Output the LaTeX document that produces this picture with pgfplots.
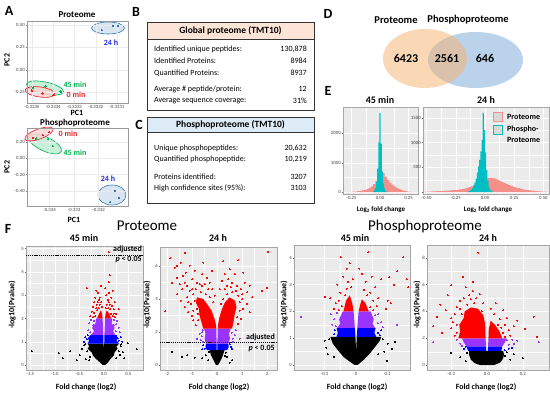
\documentclass[border=0pt]{standalone}
\usepackage{fontspec}
\setmainfont{Carlito}
\usepackage{pgfplots}
\pgfplotsset{compat=1.18}
\definecolor{ggbg}{RGB}{235,235,235}
\definecolor{salm}{RGB}{244,143,138}
\definecolor{teal2}{RGB}{0,191,196}
\definecolor{vred}{RGB}{255,0,0}
\definecolor{vpur}{RGB}{153,51,255}
\definecolor{vblue}{RGB}{0,0,255}
\definecolor{pcred}{RGB}{237,28,36}
\definecolor{pcgreen}{RGB}{0,176,80}
\definecolor{pcblue}{RGB}{46,117,182}
\definecolor{lab24}{RGB}{30,40,230}
\definecolor{peach}{RGB}{252,228,214}
\definecolor{lblue}{RGB}{221,235,247}
\definecolor{vorange}{RGB}{246,178,107}
\definecolor{vbluev}{RGB}{120,165,215}
\newcommand{\fs}[1]{\fontsize{#1}{#1}\selectfont}
\pgfplotsset{
  base/.style={scale only axis, tick align=outside, tick pos=left,
    major tick length=1.3pt, minor tick length=0pt,
    ticklabel style={font=\fs{4.8}, text=black!75, inner sep=0.8pt},
    /pgf/number format/assume math mode=true},
  gg/.style={base, axis background/.style={fill=ggbg},
    axis line style={draw=black!35, line width=0.4pt},
    grid=both, major grid style={white, line width=0.5pt},
    minor grid style={white, line width=0.25pt},
    minor tick num=1, tick style={black!60, line width=0.35pt}},
  pca/.style={base, axis line style={draw=black!40, line width=0.4pt},
    grid=major, major grid style={black!8, line width=0.3pt},
    tick style={black!50, line width=0.35pt}},
  mk/.style={only marks, mark=*, mark size=0.5pt, color=#1, mark options={line width=0pt}},
  pm/.style={only marks, mark=*, mark size=0.8pt, color=#1, mark options={line width=0pt}},
}
\begin{document}
\begin{tikzpicture}
\useasboundingbox (0pt,-394pt) rectangle (550pt,0pt);
% ---------------- panel letters
\node[font=\bfseries\fs{14}] at (9pt,-11pt) {A};
\node[font=\bfseries\fs{14}] at (136pt,-12pt) {B};
\node[font=\bfseries\fs{14}] at (139pt,-125pt) {C};
\node[font=\bfseries\fs{14}] at (328pt,-14pt) {D};
\node[font=\bfseries\fs{14}] at (328pt,-91pt) {E};
\node[font=\bfseries\fs{14}] at (8pt,-229pt) {F};
% ---------------- A: PCA proteome
\draw[pcblue, line width=0.6pt, fill=pcblue!18] (108pt,-28pt) ellipse [x radius=16.5pt, y radius=6pt];
\draw[pcgreen, line width=0.6pt, fill=pcgreen!25, fill opacity=0.85, rotate around={-12:(45pt,-88pt)}] (45pt,-88pt) ellipse [x radius=19pt, y radius=6pt];
\draw[pcred, line width=0.6pt, fill=pcred!20, fill opacity=0.8, rotate around={-8:(40pt,-92pt)}] (40pt,-92pt) ellipse [x radius=15pt, y radius=5pt];
\begin{axis}[pca, at={(27pt,-103pt)}, anchor=south west, width=101pt, height=82pt,
  xmin=-0.235, xmax=4.52, ymin=-0.373, ymax=0.545,
  xtick={0,1,2,3,4}, xticklabels={-0.3335,-0.3334,-0.3333,-0.3332,-0.3331},
  ytick={-0.25,0,0.25,0.5}, yticklabels={-0.25,0.00,0.25,0.50}]
\addplot[pm=pcblue] coordinates {(3.81,0.49)(4.05,0.49)(3.29,0.444)};
\addplot[pm=pcgreen] coordinates {(0.05,-0.205)(0.65,-0.185)(1.35,-0.245)};
\addplot[pm=pcred] coordinates {(0.0,-0.235)(0.5,-0.265)(1.0,-0.285)};
\end{axis}
\node[font=\bfseries\fs{9}] at (77pt,-15pt) {Proteome};
\node[font=\bfseries\fs{8}, rotate=90] at (7pt,-60pt) {PC2};
\node[font=\bfseries\fs{8}] at (77pt,-113pt) {PC1};
\node[font=\bfseries\fs{8}, text=lab24] at (111pt,-43pt) {24 h};
\node[font=\bfseries\fs{8}, text=pcgreen] at (75pt,-85pt) {45 min};
\node[font=\bfseries\fs{8}, text=pcred] at (76pt,-95pt) {0 min};
% ---------------- A: PCA phosphoproteome
\draw[pcblue, line width=0.6pt, fill=pcblue!18] (112pt,-195pt) ellipse [x radius=14pt, y radius=10pt];
\draw[pcgreen, line width=0.6pt, fill=pcgreen!25, fill opacity=0.85, rotate around={-25:(45pt,-144pt)}] (45pt,-144pt) ellipse [x radius=18pt, y radius=7pt];
\draw[pcred, line width=0.6pt, fill=pcred!20, fill opacity=0.8, rotate around={20:(39pt,-134pt)}] (39pt,-134pt) ellipse [x radius=15pt, y radius=5pt];
\begin{axis}[pca, at={(27pt,-206pt)}, anchor=south west, width=101pt, height=78pt,
  xmin=-1.92, xmax=2.2, ymin=-0.584, ymax=0.371,
  xtick={-1,0,1}, xticklabels={-0.334,-0.333,-0.332},
  ytick={-0.4,-0.2,0,0.2}, yticklabels={-0.40,-0.20,0.00,0.20}]
\addplot[pm=pcblue] coordinates {(1.67,-0.40)(1.84,-0.486)(1.47,-0.535)};
\addplot[pm=pcgreen] coordinates {(-1.55,0.245)(-1.06,0.236)(-0.86,0.15)};
\addplot[pm=pcred] coordinates {(-1.67,0.25)(-1.27,0.285)(-1.02,0.32)};
\end{axis}
\node[font=\bfseries\fs{9}] at (75pt,-123pt) {Phosphoproteome};
\node[font=\bfseries\fs{8}, rotate=90] at (7pt,-167pt) {PC2};
\node[font=\bfseries\fs{8}] at (74pt,-220pt) {PC1};
\node[font=\bfseries\fs{8}, text=pcred] at (68pt,-134pt) {0 min};
\node[font=\bfseries\fs{8}, text=pcgreen] at (75pt,-153pt) {45 min};
\node[font=\bfseries\fs{8}, text=lab24] at (108pt,-179pt) {24 h};
% ---------------- B table
\fill[peach] (147pt,-22pt) rectangle (314pt,-39pt);
\draw[black!80, line width=0.6pt] (147pt,-22pt) rectangle (314pt,-110pt);
\draw[black!80, line width=0.6pt] (147pt,-39pt) -- (314pt,-39pt);
\node[font=\bfseries\fs{9.5}] at (230.5pt,-30.5pt) {Global proteome (TMT10)};
\begin{scope}[every node/.style={font=\fs{8}, inner sep=0pt}]
\node[anchor=west] at (154pt,-49pt) {Identified unique peptides:};
\node[anchor=east] at (307pt,-49pt) {130,878};
\node[anchor=west] at (154pt,-61pt) {Identified Proteins:};
\node[anchor=east] at (307pt,-61pt) {8984};
\node[anchor=west] at (154pt,-73pt) {Quantified Proteins:};
\node[anchor=east] at (307pt,-73pt) {8937};
\node[anchor=west] at (154pt,-89pt) {Average \# peptide/protein:};
\node[anchor=east] at (307pt,-89pt) {12};
\node[anchor=west] at (154pt,-101pt) {Average sequence coverage:};
\node[anchor=east] at (307pt,-101pt) {31\%};
\end{scope}
% ---------------- C table
\fill[lblue] (147pt,-117pt) rectangle (314pt,-132pt);
\draw[black!80, line width=0.6pt] (147pt,-117pt) rectangle (314pt,-203pt);
\draw[black!80, line width=0.6pt] (147pt,-132pt) -- (314pt,-132pt);
\node[font=\bfseries\fs{9.5}] at (230.5pt,-124.5pt) {Phosphoproteome (TMT10)};
\begin{scope}[every node/.style={font=\fs{8}, inner sep=0pt}]
\node[anchor=west] at (154pt,-148pt) {Unique phosphopeptides:};
\node[anchor=east] at (307pt,-148pt) {20,632};
\node[anchor=west] at (154pt,-159pt) {Quantified phosphopeptide:};
\node[anchor=east] at (307pt,-159pt) {10,219};
\node[anchor=west] at (154pt,-177pt) {Proteins identified:};
\node[anchor=east] at (307pt,-177pt) {3207};
\node[anchor=west] at (154pt,-188pt) {High confidence sites (95\%):};
\node[anchor=east] at (307pt,-188pt) {3103};
\end{scope}
% ---------------- D Venn
\fill[vbluev, fill opacity=0.5] (475.5pt,-60pt) ellipse [x radius=47.5pt, y radius=28pt];
\fill[vorange, fill opacity=0.5] (425pt,-58.5pt) ellipse [x radius=42pt, y radius=29.5pt];
\node[font=\bfseries\fs{10.5}] at (396pt,-20pt) {Proteome};
\node[font=\bfseries\fs{10.5}] at (468pt,-20pt) {Phosphoproteome};
\node[font=\bfseries\fs{12}] at (406pt,-58pt) {6423};
\node[font=\bfseries\fs{12}] at (447pt,-58pt) {2561};
\node[font=\bfseries\fs{12}] at (485pt,-58pt) {646};
% ---------------- E histograms
\begin{axis}[gg, at={(343pt,-194pt)}, anchor=south west, width=75pt, height=87pt,
  xmin=-0.325, xmax=0.333, ymin=-60, ymax=2900,
  xtick={-0.25,0,0.25}, xticklabels={-0.25,0.00,0.25},
  ytick={0,1000,2000}, yticklabels={0,1000,2000}]
\addplot[const plot, fill=salm, draw=none] coordinates {
(-0.30,5)(-0.28,8)(-0.26,12)(-0.24,18)(-0.22,25)(-0.20,35)(-0.18,45)(-0.16,60)(-0.14,80)(-0.12,110)(-0.10,150)(-0.08,200)(-0.06,280)(-0.04,380)(-0.02,520)(0.00,690)(0.02,650)(0.04,520)(0.06,420)(0.08,330)(0.10,260)(0.12,200)(0.14,150)(0.16,110)(0.18,80)(0.20,55)(0.22,35)(0.24,22)(0.26,14)(0.28,8)(0.30,0)} \closedcycle;
\addplot[const plot, fill=teal2, draw=none] coordinates {
(-0.065,20)(-0.055,60)(-0.045,150)(-0.035,350)(-0.025,800)(-0.015,1700)(-0.005,2700)(0.005,1650)(0.015,700)(0.025,300)(0.035,120)(0.045,50)(0.055,15)(0.065,0)} \closedcycle;
\end{axis}
\begin{axis}[gg, at={(423pt,-194pt)}, anchor=south west, width=126pt, height=87pt,
  xmin=-0.531, xmax=0.548, ymin=-40, ymax=1720,
  xtick={-0.5,-0.25,0,0.25,0.5}, xticklabels={-0.50,-0.25,0.00,0.25,0.50},
  ytick={0,500,1000,1500}, yticklabels={,500,1000,1500}]
\addplot[const plot, fill=salm, draw=none] coordinates {
(-0.52,5)(-0.50,8)(-0.48,10)(-0.46,12)(-0.44,14)(-0.42,16)(-0.40,18)(-0.38,20)(-0.36,22)(-0.34,25)(-0.32,28)(-0.30,32)(-0.28,36)(-0.26,40)(-0.24,45)(-0.22,52)(-0.20,60)(-0.18,70)(-0.16,82)(-0.14,100)(-0.12,120)(-0.10,150)(-0.08,180)(-0.06,210)(-0.04,240)(-0.02,260)(0.00,270)(0.02,280)(0.04,285)(0.06,280)(0.08,270)(0.10,250)(0.12,225)(0.14,200)(0.16,180)(0.18,160)(0.20,140)(0.22,120)(0.24,105)(0.26,90)(0.28,78)(0.30,66)(0.32,55)(0.34,46)(0.36,38)(0.38,32)(0.40,26)(0.42,21)(0.44,17)(0.46,13)(0.48,10)(0.50,7)(0.52,5)(0.54,0)} \closedcycle;
\addplot[const plot, fill=teal2, draw=none] coordinates {
(-0.15,10)(-0.14,20)(-0.13,30)(-0.12,50)(-0.11,80)(-0.10,130)(-0.09,190)(-0.08,270)(-0.07,400)(-0.06,520)(-0.05,650)(-0.04,820)(-0.03,1050)(-0.02,1600)(-0.01,1250)(0.00,800)(0.01,450)(0.02,220)(0.03,100)(0.04,50)(0.05,20)(0.06,8)(0.07,0)} \closedcycle;
\end{axis}
\node[font=\bfseries\fs{10}] at (380pt,-100pt) {45 min};
\node[font=\bfseries\fs{10}] at (486pt,-100pt) {24 h};
\node[font=\bfseries\fs{7}] at (381pt,-210pt) {Log$_\mathbf{2}$ fold change};
\node[font=\bfseries\fs{7}] at (488pt,-210pt) {Log$_\mathbf{2}$ fold change};
\draw[salm, line width=1pt, fill=black!15] (493.5pt,-112pt) rectangle (502.5pt,-121pt);
\draw[teal2, line width=1pt, fill=black!15] (493.5pt,-125pt) rectangle (502.5pt,-134pt);
\node[font=\bfseries\fs{8}, anchor=west, inner sep=0pt] at (507pt,-116.5pt) {Proteome};
\node[font=\bfseries\fs{8}, anchor=west, inner sep=0pt] at (507pt,-129pt) {Phospho-};
\node[font=\bfseries\fs{8}, anchor=west, inner sep=0pt] at (507pt,-140pt) {Proteome};
% ---------------- F volcano plots
\node[font=\fs{15}] at (147pt,-226pt) {Proteome};
\node[font=\fs{15}] at (425pt,-226pt) {Phosphoproteome};
% P45
\begin{axis}[gg, at={(26pt,-370pt)}, anchor=south west, width=117pt, height=124pt,
  xmin=-1.59, xmax=0.80, ymin=-0.21, ymax=5.11,
  xtick={-1.5,-1,-0.5,0,0.5}, xticklabels={-1.5,-1.0,-0.5,0.0,0.5},
  ytick={0,1,2,3,4,5}, yticklabels={0,1,2,3,4,5}]
\addplot[fill=black, draw=none] coordinates {(-0.02,0)(0.02,0)(0.08,0.1)(0.13,0.25)(0.2,0.4)(0.22,0.55)(0.28,0.7)(0.26,0.8)(0.31,0.92)(0.008,0.92)(0,0.7)(-0.008,0.92)(-0.33,0.92)(-0.3,0.8)(-0.33,0.7)(-0.25,0.55)(-0.22,0.4)(-0.15,0.25)(-0.07,0.1)};
\addplot[fill=vblue, draw=none] coordinates {(-0.008,0.92)(-0.33,0.92)(-0.3,1.05)(-0.33,1.15)(-0.26,1.3)(-0.012,1.3)};
\addplot[fill=vblue, draw=none] coordinates {(0.008,0.92)(0.31,0.92)(0.26,1.05)(0.28,1.15)(0.21,1.3)(0.012,1.3)};
\addplot[fill=vpur, draw=none] coordinates {(-0.012,1.3)(-0.26,1.3)(-0.2,1.45)(-0.24,1.6)(-0.17,1.8)(-0.16,2.0)(-0.025,2.0)};
\addplot[fill=vpur, draw=none] coordinates {(0.012,1.3)(0.23,1.3)(0.19,1.45)(0.22,1.6)(0.16,1.8)(0.17,2.0)(0.025,2.0)};
\addplot[fill=vred, draw=none] coordinates {(-0.025,2.0)(-0.14,2.0)(-0.1,2.2)(-0.06,2.35)(-0.035,2.2)};
\addplot[fill=vred, draw=none] coordinates {(0.025,2.0)(0.15,2.0)(0.11,2.2)(0.06,2.35)(0.035,2.2)};
\addplot[mk=black] coordinates {(-1.47,0.6)(-0.92,0.5)(-0.84,0.3)(-0.69,0.6)(-0.49,0.43)(-0.37,0.26)(0.49,0.94)(0.67,0.69)(0.39,0.56)(-0.45,0.7)(0.42,0.3)(-0.55,0.2)(0.35,0.8)(-0.4,0.85)(0.33,0.45)(-0.3,0.2)(-0.34,0.6)(0.3,0.6)(-0.28,0.35)(0.25,0.3)(0.36,0.9)(-0.38,0.9)};
\addplot[mk=vblue] coordinates {(0.35,1.2)(-0.4,1.0)(0.38,1.0)(0.28,1.15)(-0.38,1.2)(-0.33,1.28)(0.3,1.05)(-0.35,1.1)(0.25,1.25)};
\addplot[mk=vpur] coordinates {(-0.32,1.5)(0.3,1.6)(-0.3,1.8)(0.27,1.9)(0.33,1.4)(-0.26,1.95)(0.25,1.75)(-0.28,1.4)(0.24,1.45)(-0.22,1.7)(0.2,1.7)(-0.2,1.9)(0.21,1.95)};
\addplot[mk=vred] coordinates {(-0.35,3.3)(-0.15,3.2)(-0.12,3.1)(-0.18,2.9)(-0.1,2.8)(-0.2,2.7)(-0.08,2.9)(-0.25,2.3)(-0.22,2.5)(-0.14,2.6)(-0.05,2.7)(-0.1,2.45)(0.05,3.0)(0.08,2.8)(0.12,2.6)(0.15,2.9)(0.1,3.1)(0.18,3.2)(0.22,2.7)(0.2,2.4)(0.06,2.6)(0.14,2.2)(0.12,3.85)(0.1,3.55)(0.1,4.85)(0.25,2.2)(-0.28,2.1)(0.3,2.4)(-0.06,3.4)(0.03,3.3)(-0.16,2.45)(0.17,2.55)(-0.18,2.1)(-0.2,2.25)(0.18,2.1)(0.2,2.2)(-0.13,2.35)(0.13,2.4)(-0.08,2.6)(0.09,2.45)(-0.04,2.5)(0.04,2.45)(-0.22,2.05)(0.22,2.05)(-0.12,2.7)(0.1,2.7)};
\addplot[black, line width=0.6pt, dash pattern=on 1.2pt off 0.9pt] coordinates {(-1.59,4.72)(0.80,4.72)};
\end{axis}
% P24
\begin{axis}[gg, at={(160pt,-370pt)}, anchor=south west, width=117pt, height=123pt,
  xmin=-2.28, xmax=2.4, ymin=-0.3, ymax=7.15,
  xtick={-2,-1,0,1,2}, xticklabels={-2,-1,0,1,2},
  ytick={0,2,4,6}, yticklabels={0,2,4,6}]
\addplot[fill=black, draw=none] coordinates {(-0.04,0)(0.04,0)(0.12,0.2)(0.2,0.45)(0.26,0.7)(0.3,0.9)(-0.3,0.9)(-0.24,0.6)(-0.16,0.35)(-0.09,0.15)};
\addplot[fill=vblue, draw=none] coordinates {(-0.01,0.9)(-0.4,0.9)(-0.46,1.1)(-0.44,1.3)(-0.015,1.3)};
\addplot[fill=vblue, draw=none] coordinates {(0.01,0.9)(0.4,0.9)(0.47,1.1)(0.45,1.3)(0.015,1.3)};
\addplot[fill=vpur, draw=none] coordinates {(-0.015,1.3)(-0.44,1.3)(-0.5,1.6)(-0.46,1.9)(-0.52,2.2)(-0.03,2.2)};
\addplot[fill=vpur, draw=none] coordinates {(0.015,1.3)(0.45,1.3)(0.52,1.6)(0.48,1.9)(0.55,2.2)(0.03,2.2)};
\addplot[fill=vred, draw=none] coordinates {(-0.03,2.2)(-0.55,2.2)(-0.62,2.6)(-0.7,3.0)(-0.72,3.4)(-0.85,3.8)(-0.8,4.1)(-0.55,4.0)(-0.4,3.7)(-0.22,3.3)(-0.1,2.8)(-0.05,2.5)};
\addplot[fill=vred, draw=none] coordinates {(0.03,2.2)(0.6,2.2)(0.66,2.6)(0.7,3.0)(0.78,3.5)(0.72,3.9)(0.5,4.1)(0.32,3.8)(0.2,3.4)(0.1,2.9)(0.05,2.5)};
\addplot[mk=black] coordinates {(-1.2,0.6)(-0.9,0.45)(-0.6,0.4)(-0.45,0.6)(0.4,0.5)(0.6,0.3)(-1.8,0.8)(-0.35,0.3)(0.35,0.75)(-1.4,0.5)(0.5,0.15)(-0.32,0.8)(0.32,0.55)};
\addplot[mk=vblue] coordinates {(0.6,1.0)(-0.55,1.2)(0.55,1.1)(-0.6,0.95)(-0.5,1.0)(0.5,1.25)};
\addplot[mk=vpur] coordinates {(-0.65,1.5)(-0.7,1.9)(0.7,1.8)(0.65,1.4)(0.9,1.6)(-0.8,1.6)(0.75,2.1)(-0.6,2.0)(0.62,1.6)(-0.62,1.75)(-0.55,1.4)(0.58,1.95)(-0.58,2.1)};
\addplot[mk=vred] coordinates {(-1.2,4.8)(-1.3,5.0)(-1.1,4.5)(-1.4,4.6)(-1.0,5.2)(-0.8,5.0)(-1.5,4.9)(-1.6,5.3)(-1.25,5.6)(-1.7,5.88)(-1.88,6.48)(-1.28,6.8)(-2.08,3.27)(-1.2,4.1)(-1.05,3.7)(-1.3,3.5)(-1.15,3.2)(-0.95,2.7)(-0.85,2.4)(-1.0,3.0)(-0.7,4.9)(-0.5,4.9)(-0.4,5.3)(-0.3,5.0)(-0.6,5.5)(-0.9,5.7)(-1.1,6.0)(-0.2,4.6)(-1.8,5.0)(-1.6,4.3)(-1.45,3.9)(-0.75,3.1)(-0.2,5.7)(-0.55,6.2)(-1.35,5.4)(-0.95,4.3)(-0.7,4.0)(-1.45,6.2)(-1.6,6.0)(-1.0,4.6)(-0.9,3.9)(-0.8,3.4)(-0.75,2.7)(-0.65,4.4)(-0.45,4.3)(-0.3,4.1)(-0.15,3.8)(-0.35,4.6)(-0.85,4.6)(-1.15,3.8)(-0.6,4.8)(-0.1,4.2)(-0.95,3.3)
(0.24,6.3)(0.84,6.36)(2.04,6.85)(2.0,4.67)(1.4,4.1)(1.2,4.4)(1.0,4.0)(0.95,4.6)(1.1,5.0)(0.9,3.3)(0.95,2.8)(0.85,2.5)(1.3,3.2)(0.6,5.0)(0.4,4.8)(0.2,5.1)(0.7,5.5)(0.5,5.8)(1.05,5.6)(1.3,4.8)(0.3,5.5)(1.2,3.7)(0.8,4.8)(1.8,4.5)(0.1,4.6)(0.65,3.8)(1.05,3.4)(0.45,5.2)(0.85,4.2)(0.6,4.4)(0.4,4.3)(0.25,4.0)(0.15,3.7)(0.9,3.8)(0.8,2.9)(0.75,4.5)(0.55,4.7)(1.0,4.3)(0.3,4.6)};
\addplot[black, line width=0.6pt, dash pattern=on 1.2pt off 0.9pt] coordinates {(-2.28,1.39)(2.4,1.39)};
\end{axis}
% F45
\begin{axis}[gg, at={(294pt,-370pt)}, anchor=south west, width=116pt, height=125pt,
  xmin=-0.197, xmax=0.171, ymin=-0.19, ymax=4.48,
  xtick={-0.1,0,0.1}, xticklabels={-0.1,0,0.1},
  ytick={0,1,2,3,4}, yticklabels={0,1,2,3,4}]
\addplot[fill=black, draw=none] coordinates {(-0.005,0)(0.005,0)(0.025,0.2)(0.045,0.45)(0.062,0.7)(0.075,0.9)(0.08,1.05)(0.002,1.05)(0,0.5)(-0.002,1.05)(-0.082,1.05)(-0.074,0.8)(-0.058,0.55)(-0.04,0.3)(-0.02,0.12)};
\addplot[fill=vblue, draw=none] coordinates {(-0.002,1.05)(-0.062,1.05)(-0.058,1.2)(-0.062,1.38)(-0.004,1.38)};
\addplot[fill=vblue, draw=none] coordinates {(0.002,1.05)(0.064,1.05)(0.058,1.2)(0.062,1.38)(0.004,1.38)};
\addplot[fill=vpur, draw=none] coordinates {(-0.004,1.38)(-0.06,1.38)(-0.05,1.55)(-0.054,1.7)(-0.042,2.0)(-0.008,2.0)};
\addplot[fill=vpur, draw=none] coordinates {(0.004,1.38)(0.06,1.38)(0.052,1.55)(0.056,1.7)(0.046,2.0)(0.008,2.0)};
\addplot[fill=vred, draw=none] coordinates {(-0.008,2.0)(-0.04,2.0)(-0.032,2.4)(-0.02,2.6)(-0.012,2.3)};
\addplot[fill=vred, draw=none] coordinates {(0.008,2.0)(0.04,2.0)(0.03,2.3)(0.018,2.45)(0.012,2.2)};
\addplot[mk=black] coordinates {(0.098,0.15)(0.124,0.86)(0.1,0.8)(-0.1,0.9)(0.09,0.5)(-0.09,0.4)(0.115,0.6)(-0.095,0.65)(-0.085,0.95)(0.085,0.95)(0.07,0.4)(-0.07,0.3)};
\addplot[mk=vblue] coordinates {(0.075,1.1)(-0.07,1.15)(0.08,1.3)(-0.068,1.3)(0.07,1.2)};
\addplot[mk=vpur] coordinates {(-0.175,1.8)(-0.075,1.5)(0.08,1.6)(-0.08,1.9)(0.085,1.4)(0.13,1.5)(0.07,1.9)(-0.07,1.7)(-0.065,1.45)(0.068,1.55)(-0.06,1.95)(0.06,1.85)};
\addplot[mk=vred] coordinates {(-0.048,4.03)(0.038,4.2)(0.15,4.03)(0.16,3.2)(0.165,2.9)(0.13,3.5)(0.105,3.28)(-0.098,2.54)(-0.082,2.5)(-0.06,3.0)(-0.04,3.3)(-0.03,3.6)(-0.025,3.1)(-0.015,2.9)(-0.05,2.7)(-0.065,2.3)(0.02,3.4)(0.03,3.1)(0.045,2.7)(0.06,2.9)(0.07,2.5)(0.08,3.2)(0.05,3.3)(0.095,2.1)(-0.07,2.1)(0.025,2.8)(-0.035,2.6)(0.1,2.4)(0.01,3.6)(0.11,2.3)(-0.01,3.2)(0.065,2.2)(-0.055,2.4)(0.055,2.4)(-0.02,3.8)(0.12,3.0)(-0.045,2.2)(0.045,2.15)(-0.03,2.85)(0.035,2.6)(-0.055,2.05)(0.055,2.05)};
\end{axis}
% F24
\begin{axis}[gg, at={(427pt,-370pt)}, anchor=south west, width=122pt, height=125pt,
  xmin=-0.335, xmax=0.346, ymin=-0.37, ymax=8.96,
  xtick={-0.2,0,0.2}, xticklabels={-0.2,0.0,0.2},
  ytick={0,2,4,6,8}, yticklabels={0,2,4,6,8}]
\addplot[fill=black, draw=none] coordinates {(-0.04,0)(0.04,0)(0.075,0.2)(0.09,0.5)(0.095,0.8)(0.09,1.05)(-0.1,1.05)(-0.1,0.75)(-0.09,0.4)(-0.07,0.15)};
\addplot[fill=vblue, draw=none] coordinates {(-0.004,1.05)(-0.105,1.05)(-0.115,1.4)(-0.006,1.4)};
\addplot[fill=vblue, draw=none] coordinates {(0.004,1.05)(0.08,1.05)(0.085,1.4)(0.006,1.4)};
\addplot[fill=vpur, draw=none] coordinates {(-0.006,1.4)(-0.115,1.4)(-0.13,1.7)(-0.14,2.0)(-0.008,2.0)};
\addplot[fill=vpur, draw=none] coordinates {(0.006,1.4)(0.085,1.4)(0.1,1.7)(0.11,2.0)(0.008,2.0)};
\addplot[fill=vred, draw=none] coordinates {(-0.008,2.0)(-0.16,2.0)(-0.15,2.5)(-0.155,3.0)(-0.13,3.5)(-0.125,4.0)(-0.09,4.3)(-0.05,4.2)(-0.02,3.7)(-0.01,3.0)};
\addplot[fill=vred, draw=none] coordinates {(0.008,2.0)(0.085,2.0)(0.07,2.5)(0.045,3.0)(0.02,3.3)(0.01,2.7)};
\addplot[mk=black] coordinates {(-0.15,0.6)(0.13,0.4)(0.15,0.8)(-0.2,0.9)(0.2,0.5)(-0.12,0.3)(0.11,0.95)(-0.11,0.9)(0.1,0.7)};
\addplot[mk=vblue] coordinates {(0.12,1.2)(0.1,1.1)(-0.13,1.2)(0.14,1.3)(-0.12,1.35)};
\addplot[mk=vpur] coordinates {(-0.3,1.7)(0.29,1.7)(0.15,1.6)(0.14,1.9)(-0.15,1.6)(0.12,1.5)(-0.17,1.9)(0.17,1.8)(-0.14,1.45)(0.11,1.85)};
\addplot[mk=vred] coordinates {(-0.05,8.4)(-0.134,6.6)(-0.2,5.97)(-0.23,4.1)(-0.28,3.6)(-0.2,2.75)(0.28,2.1)(0.21,2.7)(0.26,3.6)(0.11,3.5)(-0.08,5.5)(-0.1,5.2)(-0.06,5.0)(-0.15,4.8)(-0.17,4.3)(-0.18,3.8)(-0.19,3.2)(-0.17,2.4)(-0.04,5.3)(-0.02,4.6)(0.02,4.2)(0.04,3.8)(0.07,3.4)(0.1,3.0)(0.12,2.6)(0.13,2.2)(0.09,4.1)(-0.12,5.8)(-0.22,5.2)(-0.26,4.5)(-0.08,6.2)(0.05,4.6)(0.15,2.9)(0.17,3.3)(-0.25,2.4)(-0.3,2.9)(-0.13,5.0)(-0.09,4.9)(-0.2,3.5)(0.08,2.8)(-0.11,4.5)(-0.07,4.6)(-0.15,4.2)(-0.17,3.0)(-0.18,2.2)(-0.03,4.0)(0.06,3.0)(0.09,2.4)(0.1,2.1)(-0.14,3.8)};
\end{axis}
% F labels
\node[font=\bfseries\fs{10}] at (84pt,-238pt) {45 min};
\node[font=\bfseries\fs{10}] at (218pt,-238pt) {24 h};
\node[font=\bfseries\fs{10}] at (355pt,-238pt) {45 min};
\node[font=\bfseries\fs{10}] at (488pt,-238pt) {24 h};
\node[font=\bfseries\fs{8}] at (86pt,-387pt) {Fold change (log2)};
\node[font=\bfseries\fs{8}] at (219pt,-387pt) {Fold change (log2)};
\node[font=\bfseries\fs{8}] at (357pt,-387pt) {Fold change (log2)};
\node[font=\bfseries\fs{8}] at (486pt,-387pt) {Fold change (log2)};
\node[font=\bfseries\fs{8}, rotate=90] at (12pt,-305pt) {-log10(Pvalue)};
\node[font=\bfseries\fs{8}, rotate=90] at (147pt,-305pt) {-log10(Pvalue)};
\node[font=\bfseries\fs{8}, rotate=90] at (284pt,-305pt) {-log10(Pvalue)};
\node[font=\bfseries\fs{8}, rotate=90] at (417pt,-305pt) {-log10(Pvalue)};
\node[font=\bfseries\fs{8}, anchor=east, inner sep=0pt] at (142pt,-249pt) {adjusted};
\node[font=\bfseries\fs{8}, anchor=east, inner sep=0pt] at (142pt,-260pt) {\textit{p} < 0.05};
\node[font=\bfseries\fs{8}, anchor=east, inner sep=0pt] at (275pt,-337pt) {adjusted};
\node[font=\bfseries\fs{8}, anchor=east, inner sep=0pt] at (275pt,-349pt) {\textit{p} < 0.05};
\end{tikzpicture}
\end{document}
